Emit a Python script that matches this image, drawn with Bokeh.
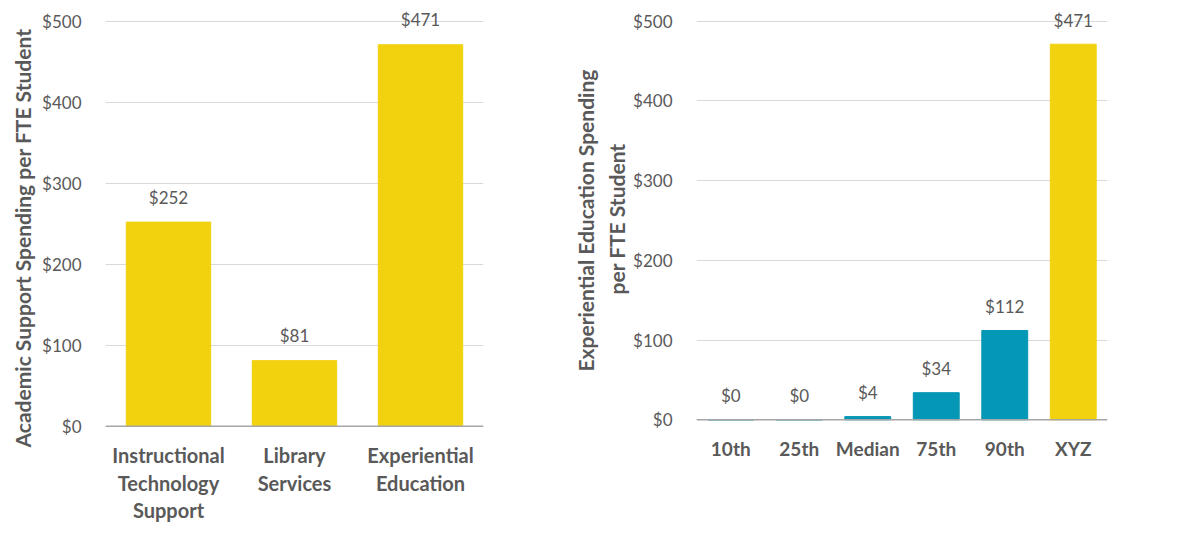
from bokeh.plotting import figure
from bokeh.layouts import row
from bokeh.models import ColumnDataSource, NumeralTickFormatter, FixedTicker, Range1d, Span, Title
from bokeh.core.properties import value
from bokeh.embed import file_html
from bokeh.resources import INLINE

# ---- data ----
left_categories = ["Instructional Technology Support", "Library Services", "Experiential Education"]
left_tick_lines = [["Instructional", "Technology", "Support"], ["Library", "Services"], ["Experiential", "Education"]]
left_values = [252, 81, 471]
left_labels = ["$252", "$81", "$471"]
left_ylabel = ["Academic Support Spending per FTE Student"]

right_categories = ["10th", "25th", "Median", "75th", "90th", "XYZ"]
right_values = [0, 0, 4, 34, 112, 471]
right_labels = ["$0", "$0", "$4", "$34", "$112", "$471"]
right_ylabel = ["Experiential Education Spending", "per FTE Student"]

y_ticks = [0, 100, 200, 300, 400, 500]

YELLOW = "#F2D20F"
TEAL = "#0597B6"
TEXT = "#595959"
FONT = "Lato"

left_colors = [YELLOW] * len(left_categories)
right_colors = [TEAL] * 5 + [YELLOW]


def style(p, tick_standoff):
    p.outline_line_color = None
    p.xgrid.grid_line_color = None
    p.ygrid.grid_line_color = "#d9d9d9"
    p.ygrid.grid_line_width = 1
    p.yaxis.ticker = FixedTicker(ticks=y_ticks)
    p.yaxis.formatter = NumeralTickFormatter(format="$0")
    p.yaxis.axis_line_color = None
    p.yaxis.major_tick_line_color = None
    p.yaxis.minor_tick_line_color = None
    p.yaxis.major_tick_out = 0
    p.yaxis.major_tick_in = 0
    p.yaxis.major_label_standoff = tick_standoff
    p.yaxis.major_label_text_font = FONT
    p.yaxis.major_label_text_font_size = "17px"
    p.yaxis.major_label_text_color = TEXT
    p.xaxis.visible = False
    p.add_layout(Span(location=0, dimension="width", line_color="#a6a6a6", line_width=1.5))
    p.toolbar.logo = None


def ylabel_lines(p, lines, offsets, standoff):
    # lines listed outermost first; add innermost first so it sits next to the axis
    for text, off in reversed(list(zip(lines, offsets))):
        p.add_layout(Title(text=text, align="left", offset=off, standoff=standoff,
                           text_font=FONT, text_font_style="bold", text_font_size="21px",
                           text_color=TEXT), "left")


def category_labels(p, cats, lines_per_cat, first_offset, step, size):
    xs, ys, txt, offs = [], [], [], []
    for c, lines in zip(cats, lines_per_cat):
        for i, t in enumerate(lines):
            xs.append(c)
            ys.append(0)
            txt.append(t)
            offs.append(first_offset + i * step)
    src = ColumnDataSource(dict(x=xs, y=ys, t=txt, o=offs))
    p.text(x="x", y="y", text="t", y_offset="o", source=src,
           text_align="center", text_baseline="middle",
           text_font=value(FONT), text_font_style="bold",
           text_font_size=size, text_color=TEXT)


# ---- left chart ----
src1 = ColumnDataSource(dict(cat=left_categories, val=left_values, lab=left_labels, col=left_colors))
p1 = figure(x_range=left_categories, y_range=Range1d(-125, 512),
            frame_width=378, frame_height=516,
            min_border_left=105, min_border_right=85, min_border_top=11, min_border_bottom=5,
            output_backend="svg", toolbar_location=None)
p1.vbar(x="cat", top="val", width=0.67, color="col", source=src1)
p1.text(x="cat", y="val", text="lab", source=src1, y_offset=-25,
        text_align="center", text_baseline="middle",
        text_font=value(FONT), text_font_size="17px", text_color=TEXT)
style(p1, 24)
ylabel_lines(p1, left_ylabel, [80], 10)
category_labels(p1, left_categories, left_tick_lines, 29, 27.5, "20px")

# ---- right chart ----
src2 = ColumnDataSource(dict(cat=right_categories, val=right_values, lab=right_labels, col=right_colors))
p2 = figure(x_range=right_categories, y_range=Range1d(-125, 512),
            frame_width=411, frame_height=508,
            min_border_left=125, min_border_right=69, min_border_top=10, min_border_bottom=5,
            output_backend="svg", toolbar_location=None)
p2.vbar(x="cat", top="val", width=0.67, color="col", source=src2)
p2.text(x="cat", y="val", text="lab", source=src2, y_offset=-24,
        text_align="center", text_baseline="middle",
        text_font=value(FONT), text_font_size="17px", text_color=TEXT)
style(p2, 24)
ylabel_lines(p2, right_ylabel, [148, 225], 4)
category_labels(p2, right_categories, [[c] for c in right_categories], 29, 0, "19px")

layout = row(p1, p2, spacing=0)

open("out.html", "w").write(file_html(layout, INLINE))
